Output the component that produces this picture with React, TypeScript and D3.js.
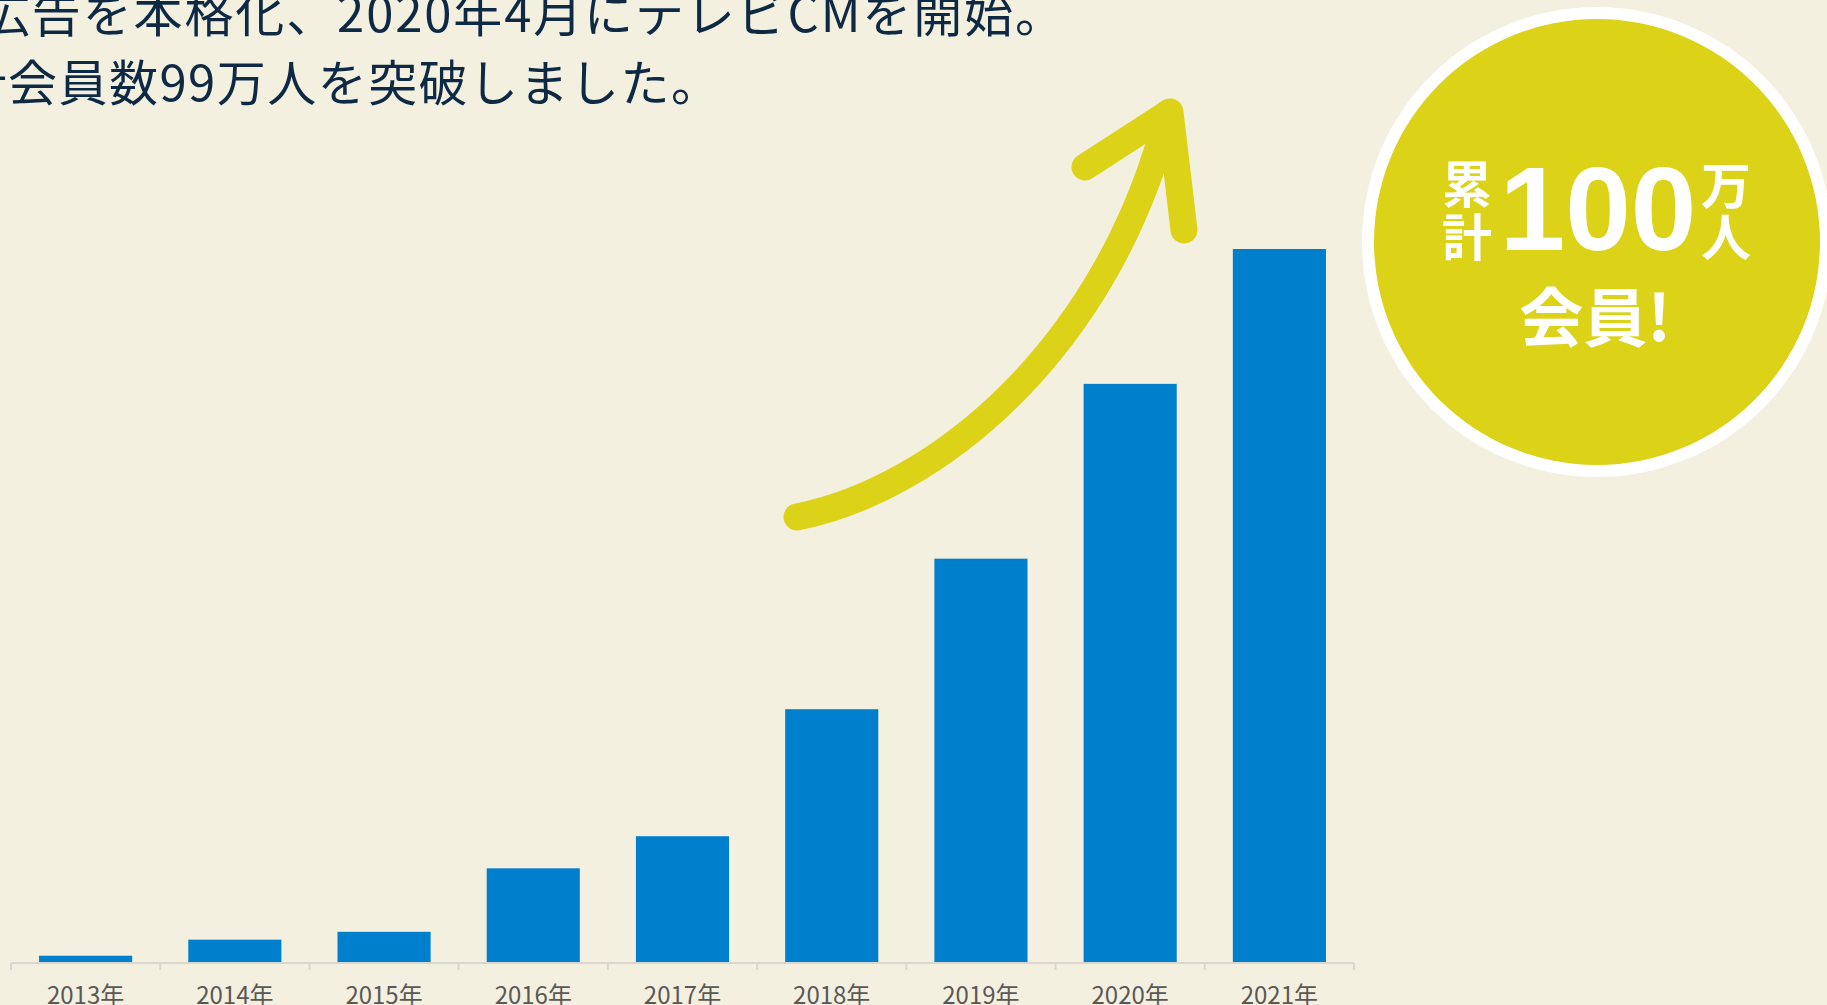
import React from "react";
import * as d3 from "d3";

const categories = ["2013年", "2014年", "2015年", "2016年", "2017年", "2018年", "2019年", "2020年", "2021年"];
const members = [0.95, 3.2, 4.3, 13.2, 17.7, 35.5, 56.6, 81.1, 100];
const titleLines = ["広告を本格化、2020年4月にテレビCMを開始。", "累計会員数99万人を突破しました。"];
const badgeTop = ["累", "計"];
const badgeNumber = "100";
const badgeUnit = ["万", "人"];
const badgeBottom = "会員!";

const W = 1827;
const H = 1005;
const BG = "#f3f0e0";
const BLUE = "#007fcc";
const YELLOW = "#dcd217";
const CJK = "'Noto Sans CJK JP', 'Noto Sans', sans-serif";

export default function App() {
  const x = d3
    .scaleBand<string>()
    .domain(categories)
    .range([11, 1354])
    .paddingInner(0.376)
    .paddingOuter(0.188);
  const y = d3.scaleLinear().domain([0, 100]).range([962.5, 249]);
  const step = x.step();
  const x0 = 11;
  const boundaries = d3.range(categories.length + 1).map((i) => x0 + i * step);
  const baseY = y(0);

  const curve = d3.path();
  curve.moveTo(797, 517);
  curve.bezierCurveTo(935, 490, 1108, 350, 1168, 113);
  const head = d3.line()([
    [1085, 167],
    [1170, 112],
    [1184, 230],
  ]);

  return (
    <div style={{ position: "absolute", left: 0, top: 0, width: W, height: H, background: BG }}>
      <svg width={W} height={H} style={{ display: "block" }}>
        <rect x={0} y={0} width={W} height={H} fill={BG} />
        {/* title */}
        <text
          x={-19}
          y={32}
          fontFamily={CJK}
          fontSize={49}
          fill="#0e2944"
          textLength={1083}
          lengthAdjust="spacing"
        >
          {titleLines[0]}
        </text>
        <text
          x={-93}
          y={101}
          fontFamily={CJK}
          fontSize={49}
          fill="#0e2944"
          textLength={813}
          lengthAdjust="spacing"
        >
          {titleLines[1]}
        </text>
        {/* bars */}
        {categories.map((c, i) => (
          <rect
            key={c}
            x={x(c)}
            y={y(members[i])}
            width={x.bandwidth()}
            height={baseY - y(members[i])}
            fill={BLUE}
          />
        ))}
        {/* axis */}
        <line x1={x0} x2={boundaries[boundaries.length - 1]} y1={963} y2={963} stroke="#d9d7d0" strokeWidth={2} />
        {boundaries.map((b, i) => (
          <line key={i} x1={b} x2={b} y1={963} y2={970} stroke="#d9d7d0" strokeWidth={2} />
        ))}
        {categories.map((c) => (
          <text
            key={c}
            x={(x(c) as number) + x.bandwidth() / 2}
            y={1004}
            textAnchor="middle"
            fontFamily={CJK}
            fontSize={24}
            fill="#5a5856"
          >
            {c}
          </text>
        ))}
        {/* arrow */}
        <path d={curve.toString()} fill="none" stroke={YELLOW} strokeWidth={27} strokeLinecap="round" />
        <path d={head || ""} fill="none" stroke={YELLOW} strokeWidth={27} strokeLinecap="round" strokeLinejoin="round" />
        {/* badge */}
        <circle cx={1597} cy={242} r={235} fill="#ffffff" />
        <circle cx={1597} cy={242} r={223} fill={YELLOW} />
        {badgeTop.map((t, i) => (
          <text
            key={t}
            x={1467}
            y={181 + i * 53}
            textAnchor="middle"
            dominantBaseline="central"
            fontFamily={CJK}
            fontWeight={700}
            fontSize={50}
            fill="#ffffff"
          >
            {t}
          </text>
        ))}
        {badgeUnit.map((t, i) => (
          <text
            key={t}
            x={1726}
            y={182 + i * 52}
            textAnchor="middle"
            dominantBaseline="central"
            fontFamily={CJK}
            fontWeight={700}
            fontSize={50}
            fill="#ffffff"
          >
            {t}
          </text>
        ))}
        <text
          x={1598}
          y={250}
          textAnchor="middle"
          fontFamily="'Liberation Sans', Arial, sans-serif"
          fontWeight={700}
          fontSize={118}
          fill="#ffffff"
        >
          {badgeNumber}
        </text>
        <text
          x={1595}
          y={313}
          textAnchor="middle"
          dominantBaseline="central"
          fontFamily={CJK}
          fontWeight={700}
          fontSize={64}
          fill="#ffffff"
        >
          {badgeBottom}
        </text>
      </svg>
    </div>
  );
}
